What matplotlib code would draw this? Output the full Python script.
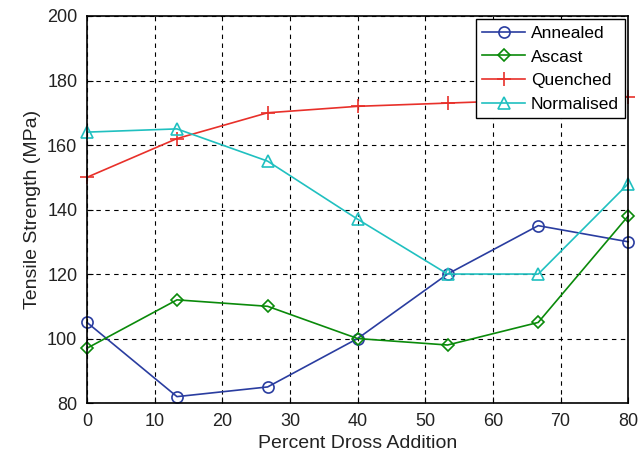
import numpy as np
import matplotlib
matplotlib.use("Agg")
import matplotlib.pyplot as plt

plt.rcParams['font.family'] = ['Liberation Sans', 'DejaVu Sans']

dross = [0, 13.3, 26.7, 40, 53.3, 66.7, 80]
annealed = [105, 82, 85, 100, 120, 135, 130]
ascast = [97, 112, 110, 100, 98, 105, 138]
quenched = [150, 162, 170, 172, 173, 174, 175]
normalised = [164, 165, 155, 137, 120, 120, 148]

fig = plt.figure(figsize=(6.42, 4.57), dpi=100)
ax = fig.add_axes([0.1355, 0.118, 0.843, 0.847])

kw = dict(lw=1.2, clip_on=False)
ax.plot(dross, annealed, color='#2a3da0', marker='o', mfc='none', ms=8, mew=1.2, label='Annealed', **kw)
ax.plot(dross, ascast, color='#0a8a0a', marker='D', mfc='none', ms=6.5, mew=1.2, label='Ascast', **kw)
ax.plot(dross, quenched, color='#e8302a', marker='+', ms=10, mew=1.2, label='Quenched', **kw)
ax.plot(dross, normalised, color='#20c0c0', marker='^', mfc='none', ms=9, mew=1.2, label='Normalised', **kw)

ax.set_xlim(0, 80)
ax.set_ylim(80, 200)
ax.set_xticks(np.arange(0, 81, 10))
ax.set_yticks(np.arange(80, 201, 20))
ax.grid(True, color='black', linestyle=(0, (4, 4)), lw=0.8)
ax.tick_params(direction='in', labelsize=13, length=4, pad=7, labelcolor='#222222')
for s in ax.spines.values():
    s.set_linewidth(1.2)

ax.set_xlabel('Percent Dross Addition', fontsize=14, color='#222222')
ax.set_ylabel('Tensile Strength (MPa)', fontsize=14, color='#222222')

leg = ax.legend(loc='upper right', fontsize=12.5, fancybox=False, framealpha=1,
                edgecolor='black', borderaxespad=0.2, handlelength=2.5,
                labelspacing=0.5, borderpad=0.35, handletextpad=0.3)
leg.get_frame().set_linewidth(1.0)
leg.set_zorder(5)

fig.savefig('out.png', dpi=100)
